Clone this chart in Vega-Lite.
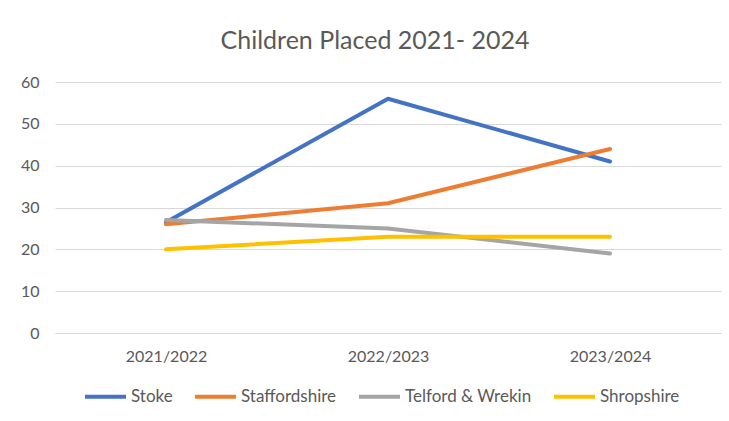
{
  "$schema": "https://vega.github.io/schema/vega-lite/v6.json",
  "autosize": "none",
  "width": 666,
  "height": 251,
  "padding": {"left": 55, "top": 82, "right": 8, "bottom": 88},
  "background": "white",
  "title": {
    "text": "Children Placed 2021- 2024",
    "font": "Lato",
    "fontSize": 25,
    "fontWeight": "normal",
    "color": "#595959",
    "offset": 20,
    "dx": -13
  },
  "data": {
    "values": [
      {"year": "2021/2022", "area": "Stoke", "value": 26.5},
      {"year": "2022/2023", "area": "Stoke", "value": 56},
      {"year": "2023/2024", "area": "Stoke", "value": 41},
      {"year": "2021/2022", "area": "Staffordshire", "value": 26},
      {"year": "2022/2023", "area": "Staffordshire", "value": 31},
      {"year": "2023/2024", "area": "Staffordshire", "value": 44},
      {"year": "2021/2022", "area": "Telford & Wrekin", "value": 27},
      {"year": "2022/2023", "area": "Telford & Wrekin", "value": 25},
      {"year": "2023/2024", "area": "Telford & Wrekin", "value": 19},
      {"year": "2021/2022", "area": "Shropshire", "value": 20},
      {"year": "2022/2023", "area": "Shropshire", "value": 23},
      {"year": "2023/2024", "area": "Shropshire", "value": 23}
    ]
  },
  "mark": {"type": "line", "strokeWidth": 4, "strokeCap": "round", "strokeJoin": "round"},
  "encoding": {
    "x": {
      "field": "year",
      "type": "ordinal",
      "scale": {"paddingInner": 0, "paddingOuter": 0.5},
      "axis": {
        "title": null,
        "labelAngle": 0,
        "ticks": false,
        "domain": true,
        "domainColor": "#d9d9d9",
        "domainWidth": 1,
        "labelPadding": 15,
        "labelFont": "Lato",
        "labelFontSize": 16,
        "labelColor": "#595959"
      }
    },
    "y": {
      "field": "value",
      "type": "quantitative",
      "scale": {"domain": [0, 60], "nice": false},
      "axis": {
        "title": null,
        "values": [0, 10, 20, 30, 40, 50, 60],
        "ticks": false,
        "domain": false,
        "gridColor": "#d9d9d9",
        "gridWidth": 1,
        "labelPadding": 16,
        "labelFont": "Lato",
        "labelFontSize": 16,
        "labelColor": "#595959"
      }
    },
    "color": {
      "field": "area",
      "type": "nominal",
      "sort": ["Stoke", "Staffordshire", "Telford & Wrekin", "Shropshire"],
      "scale": {
        "domain": ["Stoke", "Staffordshire", "Telford & Wrekin", "Shropshire"],
        "range": ["#4472C4", "#ED7D31", "#A5A5A5", "#FFC000"]
      },
      "legend": {
        "title": null,
        "orient": "none",
        "legendX": 28,
        "legendY": 292,
        "direction": "horizontal",
        "symbolType": "stroke",
        "symbolSize": 1681,
        "symbolStrokeWidth": 4,
        "labelFont": "Lato",
        "labelFontSize": 17,
        "labelColor": "#595959",
        "labelOffset": 3,
        "columnPadding": 14
      }
    }
  },
  "config": {
    "view": {"stroke": null}
  }
}
